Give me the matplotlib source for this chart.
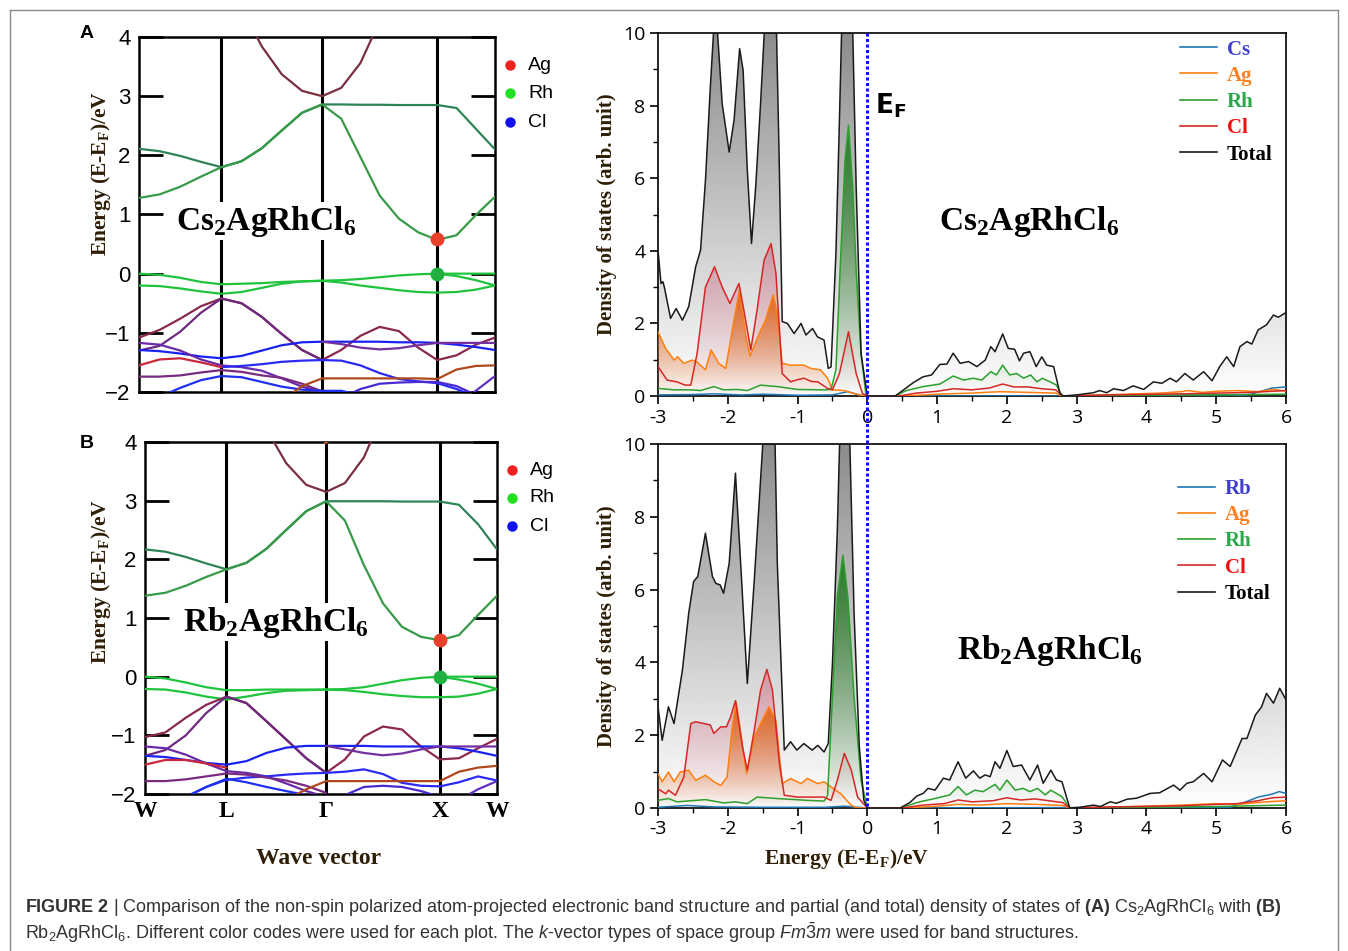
import numpy as np
import matplotlib
matplotlib.use('Agg')
import matplotlib.pyplot as plt
from matplotlib import font_manager
from matplotlib.colors import LinearSegmentedColormap, to_rgb
from matplotlib.lines import Line2D
from matplotlib.ticker import MultipleLocator

W_PX, H_PX = 1348, 951
nan = np.nan

# ---------------- band structure: energies (eV) on the k-path ----------------
k_labels = ['W', 'L', 'Γ', 'X', 'W']
k_ticks = [0.0, 0.2315, 0.5145, 0.838, 1.0]
kpts = [0.0, 0.058, 0.116, 0.174, 0.2315, 0.288, 0.345, 0.401, 0.458, 0.5145,
        0.568, 0.622, 0.676, 0.730, 0.784, 0.838, 0.892, 0.946, 1.0]

# Cs2AgRhCl6
a_cb1 = [2.11, 2.07, 1.99, 1.89, 1.80, 1.90, 2.12, 2.42, 2.72, 2.86, 2.86, 2.855, 2.855, 2.85, 2.85, 2.85, 2.80, 2.45, 2.10]
a_cb2 = [1.28, 1.34, 1.47, 1.64, 1.80, 1.90, 2.12, 2.42, 2.72, 2.86, 2.62, 1.97, 1.32, 0.93, 0.70, 0.57, 0.65, 0.99, 1.30]
a_par = [nan] * 5 + [4.50, 3.84, 3.37, 3.09, 3.00, 3.14, 3.56, 4.27] + [nan] * 6
a_v1 = [0.0, -0.02, -0.07, -0.14, -0.18, -0.17, -0.16, -0.14, -0.13, -0.12, -0.15, -0.20, -0.24, -0.28, -0.31, -0.32, -0.31, -0.27, -0.20]
a_v2 = [-0.20, -0.21, -0.25, -0.30, -0.34, -0.31, -0.24, -0.17, -0.13, -0.12, -0.11, -0.09, -0.06, -0.03, -0.01, 0.0, 0.0, 0.0, 0.0]
a_v3 = [nan] * 15 + [0.0, -0.04, -0.11, -0.20]
a_l1 = [-1.08, -0.95, -0.76, -0.55, -0.42, -0.50, -0.73, -1.02, -1.29, -1.46, -1.29, -1.05, -0.90, -0.97, -1.25, -1.46, -1.38, -1.20, -1.08]
a_l2 = [-1.30, -1.22, -0.98, -0.66, -0.42, -0.50, -0.73, -1.02, -1.29, -1.46] + [nan] * 9
a_l3 = [-1.29, -1.31, -1.35, -1.40, -1.43, -1.39, -1.30, -1.21, -1.16, -1.15, -1.15, -1.15, -1.15, -1.16, -1.16, -1.17, -1.20, -1.24, -1.29]
a_l4 = [-1.17, -1.20, -1.30, -1.45, -1.55, -1.58, -1.64, -1.77, -1.91, -2.00] + [nan] * 9
a_l5 = [nan] * 9 + [-1.15, -1.19, -1.25, -1.28, -1.26, -1.21, -1.17, -1.17, -1.17, -1.17]
a_l6 = [nan] * 4 + [-1.58, -1.56, -1.53, -1.49, -1.47, -1.46, -1.47, -1.55, -1.68, -1.78, -1.82, -1.85, -1.95, -2.08, -2.20]
a_l7 = [-1.55, -1.45, -1.43, -1.50, -1.58] + [nan] * 14
a_l8 = [-1.74, -1.74, -1.72, -1.67, -1.63, -1.66, -1.72, -1.76, -1.86, -1.99] + [nan] * 9
a_l9 = [-2.25, -2.08, -1.93, -1.80, -1.73, -1.75, -1.83, -1.91, -1.96, -1.98, -1.98, -2.05, -2.20] + [nan] * 6
a_l10 = [nan] * 7 + [-2.15, -1.90, -1.77, -1.77, -1.77, -1.77, -1.77, -1.77, -1.78, -1.62, -1.56, -1.55]
a_l11 = [nan] * 16 + [-2.20, -1.98, -1.73]
a_l12 = [nan] * 10 + [-2.10, -1.95, -1.86, -1.84, -1.83, -1.83, -1.90, -2.05, -2.20]

# Rb2AgRhCl6
b_cb1 = [2.17, 2.13, 2.04, 1.93, 1.83, 1.94, 2.18, 2.50, 2.82, 2.99, 2.99, 2.99, 2.99, 2.985, 2.985, 2.985, 2.93, 2.60, 2.17]
b_cb2 = [1.38, 1.43, 1.55, 1.70, 1.83, 1.94, 2.18, 2.50, 2.82, 2.99, 2.66, 1.90, 1.25, 0.85, 0.68, 0.62, 0.71, 1.05, 1.38]
b_par = [nan] * 5 + [4.70, 4.22, 3.64, 3.27, 3.15, 3.30, 3.74, 4.48] + [nan] * 6
b_v1 = [0.0, -0.03, -0.10, -0.18, -0.23, -0.23, -0.22, -0.22, -0.22, -0.22, -0.23, -0.26, -0.30, -0.33, -0.35, -0.35, -0.34, -0.29, -0.21]
b_v2 = [-0.21, -0.22, -0.27, -0.34, -0.39, -0.34, -0.28, -0.24, -0.23, -0.22, -0.21, -0.18, -0.12, -0.06, -0.02, 0.0, 0.0, 0.0, 0.0]
b_v3 = [nan] * 15 + [0.0, -0.05, -0.12, -0.21]
b_l1 = [-1.03, -0.95, -0.70, -0.48, -0.34, -0.45, -0.76, -1.07, -1.39, -1.64, -1.41, -1.02, -0.85, -0.90, -1.19, -1.41, -1.39, -1.22, -1.06]
b_l2 = [-1.35, -1.25, -1.00, -0.62, -0.34, -0.45, -0.76, -1.07, -1.39, -1.64] + [nan] * 9
b_l3 = [-1.35, -1.37, -1.42, -1.47, -1.50, -1.44, -1.30, -1.21, -1.18, -1.18, -1.18, -1.18, -1.19, -1.19, -1.19, -1.19, -1.22, -1.28, -1.35]
b_l4 = [-1.19, -1.22, -1.33, -1.48, -1.61, -1.64, -1.70, -1.82, -1.95, -2.05] + [nan] * 9
b_l5 = [nan] * 9 + [-1.18, -1.24, -1.30, -1.34, -1.31, -1.24, -1.19, -1.19, -1.19, -1.19]
b_l6 = [nan, nan, -2.05, -1.88, -1.76, -1.72, -1.70, -1.67, -1.65, -1.64, -1.62, -1.58, -1.66, -1.81, -1.86, -1.87, -1.80, -1.70, -1.77]
b_l7 = [-1.50, -1.42, -1.42, -1.48, -1.55] + [nan] * 14
b_l8 = [-1.78, -1.78, -1.75, -1.70, -1.65, -1.67, -1.72, -1.77, -1.86, -1.98] + [nan] * 9
b_l9 = [-2.30, -2.20, -2.05, -1.88, -1.74, -1.80, -1.88, -1.95, -2.02, -2.10] + [nan] * 9
b_l10 = [nan] * 7 + [-2.10, -1.92, -1.78, -1.78, -1.78, -1.78, -1.78, -1.78, -1.78, -1.62, -1.55, -1.52]
b_l11 = [nan] * 16 + [-2.10, -1.92, -1.78]
b_l12 = [nan] * 10 + [-2.02, -1.88, -1.86, -1.88, -1.95, -2.05] + [nan] * 3
b_top = [nan] * 8 + [4.30, 3.98, 4.30] + [nan] * 8

band_colors = ['#2e8456', '#369a48', '#7a3040', '#1fc43c', '#1fc43c', '#1fc43c',
               '#8a2850', '#6e2a7e', '#1a22f0', '#6a2aa8', '#7530a0', '#2a2af5',
               '#c8283a', '#7a2a80', '#2030f0', '#b0481e', '#6030c0', '#4a2ad0', '#c0501e']

# band edge markers at X (k, E)
a_vbm, a_cbm = (0.838, 0.0), (0.838, 0.58)
b_vbm, b_cbm = (0.838, 0.0), (0.838, 0.62)

# ---------------- density of states: (E, DOS) pairs ----------------
a_total = [(-3.0, 4.02), (-2.957, 3.10), (-2.93, 3.15), (-2.91, 3.01), (-2.82, 2.14), (-2.74, 2.41),
           (-2.65, 2.09), (-2.56, 2.46), (-2.46, 3.56), (-2.39, 4.02), (-2.32, 5.94), (-2.25, 8.51),
           (-2.20, 10.15), (-2.15, 10.1), (-2.08, 8.05), (-1.98, 6.72), (-1.91, 7.6), (-1.83, 9.57),
           (-1.78, 8.97), (-1.72, 6.22), (-1.66, 4.20), (-1.60, 5.76), (-1.53, 8.06), (-1.45, 11.0),
           (-1.38, 12.5), (-1.31, 10.8), (-1.265, 6.68), (-1.22, 2.05), (-1.145, 2.0), (-1.05, 1.72),
           (-0.95, 2.0), (-0.88, 1.68), (-0.785, 1.86), (-0.715, 1.63), (-0.62, 1.54), (-0.56, 0.76),
           (-0.52, 0.80), (-0.45, 3.93), (-0.40, 7.6), (-0.35, 11.5), (-0.27, 14.0), (-0.22, 11.0),
           (-0.16, 5.76), (-0.09, 1.17), (0.0, 0.0), (0.40, 0.0), (0.52, 0.17), (0.66, 0.37),
           (0.80, 0.53), (0.92, 0.58), (1.04, 0.87), (1.14, 0.88), (1.23, 1.18), (1.33, 0.90),
           (1.45, 0.95), (1.57, 0.81), (1.69, 0.99), (1.77, 1.36), (1.83, 1.22), (1.94, 1.71),
           (2.02, 1.31), (2.11, 1.29), (2.18, 0.97), (2.24, 1.18), (2.33, 1.22), (2.42, 0.81),
           (2.50, 1.08), (2.57, 0.85), (2.67, 0.81), (2.76, 0.07), (2.81, 0.0), (3.0, 0.03),
           (3.24, 0.09), (3.33, 0.15), (3.43, 0.09), (3.53, 0.20), (3.67, 0.15), (3.81, 0.28),
           (3.96, 0.18), (4.10, 0.39), (4.22, 0.35), (4.34, 0.49), (4.43, 0.39), (4.55, 0.62),
           (4.67, 0.44), (4.82, 0.67), (4.94, 0.42), (5.05, 0.81), (5.15, 1.08), (5.25, 0.81),
           (5.34, 1.36), (5.44, 1.50), (5.51, 1.43), (5.60, 1.82), (5.72, 1.96), (5.82, 2.23),
           (5.89, 2.17), (6.0, 2.30)]
a_cl = [(-3.0, 0.81), (-2.87, 0.44), (-2.73, 0.39), (-2.61, 0.30), (-2.53, 0.30), (-2.44, 1.17),
        (-2.32, 3.0), (-2.19, 3.56), (-2.08, 3.0), (-1.97, 2.55), (-1.84, 3.10), (-1.77, 2.37),
        (-1.67, 1.27), (-1.58, 2.37), (-1.48, 3.74), (-1.38, 4.20), (-1.31, 3.38), (-1.22, 0.62),
        (-1.10, 0.39), (-1.0, 0.45), (-0.91, 0.49), (-0.80, 0.40), (-0.71, 0.39), (-0.57, 0.21),
        (-0.50, 0.17), (-0.40, 0.62), (-0.27, 1.77), (-0.16, 0.62), (-0.07, 0.07), (0.0, 0.0),
        (0.45, 0.0), (0.7, 0.08), (1.0, 0.13), (1.23, 0.2), (1.5, 0.17), (1.75, 0.22), (1.94, 0.33),
        (2.1, 0.25), (2.3, 0.25), (2.5, 0.2), (2.7, 0.17), (2.8, 0.0), (3.5, 0.03), (4.5, 0.06),
        (5.0, 0.08), (5.5, 0.1), (6.0, 0.15)]
a_ag = [(-3.0, 1.77), (-2.89, 1.31), (-2.77, 0.99), (-2.72, 1.08), (-2.63, 0.90), (-2.51, 0.99),
        (-2.44, 0.94), (-2.32, 0.72), (-2.24, 1.27), (-2.13, 0.90), (-2.03, 0.76), (-1.91, 2.09),
        (-1.83, 2.95), (-1.74, 1.63), (-1.68, 1.10), (-1.55, 1.72), (-1.46, 2.09), (-1.35, 2.78),
        (-1.29, 2.28), (-1.22, 0.90), (-1.10, 0.85), (-0.91, 0.85), (-0.81, 0.76), (-0.67, 0.72),
        (-0.57, 0.49), (-0.50, 0.17), (-0.33, 0.15), (-0.19, 0.07), (-0.04, 0.0), (0.5, 0.0),
        (1.0, 0.05), (1.5, 0.08), (1.9, 0.12), (2.3, 0.1), (2.7, 0.08), (2.8, 0.0), (3.2, 0.02),
        (3.7, 0.05), (4.2, 0.08), (4.5, 0.12), (4.6, 0.15), (4.8, 0.1), (5.0, 0.13), (5.3, 0.15),
        (5.6, 0.12), (5.8, 0.18), (6.0, 0.14)]
a_rh = [(-3.0, 0.21), (-2.77, 0.17), (-2.53, 0.17), (-2.39, 0.15), (-2.20, 0.26), (-2.06, 0.17),
        (-1.86, 0.18), (-1.72, 0.15), (-1.53, 0.30), (-1.29, 0.26), (-1.0, 0.18), (-0.62, 0.17),
        (-0.52, 0.18), (-0.45, 0.72), (-0.38, 3.93), (-0.32, 6.50), (-0.27, 7.46), (-0.21, 5.76),
        (-0.16, 3.47), (-0.09, 1.17), (-0.02, 0.03), (0.0, 0.0), (0.40, 0.0), (0.56, 0.15),
        (0.80, 0.26), (1.04, 0.33), (1.23, 0.55), (1.38, 0.44), (1.52, 0.49), (1.64, 0.44),
        (1.77, 0.67), (1.85, 0.58), (1.94, 0.85), (2.04, 0.58), (2.14, 0.62), (2.24, 0.49),
        (2.34, 0.58), (2.43, 0.39), (2.51, 0.49), (2.64, 0.37), (2.71, 0.30), (2.79, 0.0),
        (3.5, 0.02), (4.5, 0.03), (5.5, 0.04), (6.0, 0.05)]
a_cs = [(-3.0, 0.03), (-2.5, 0.04), (-2.2, 0.06), (-1.8, 0.03), (-1.5, 0.05), (-1.0, 0.02),
        (-0.5, 0.03), (-0.28, 0.12), (-0.1, 0.02), (0.0, 0.0), (5.3, 0.0), (5.5, 0.05),
        (5.8, 0.22), (6.0, 0.25)]

b_total = [(-3.0, 2.78), (-2.94, 1.86), (-2.85, 2.78), (-2.77, 2.32), (-2.65, 3.79), (-2.56, 5.35),
           (-2.49, 6.22), (-2.43, 6.36), (-2.32, 7.55), (-2.22, 6.36), (-2.17, 6.17), (-2.11, 6.13),
           (-2.06, 5.90), (-1.98, 6.72), (-1.89, 9.20), (-1.81, 6.54), (-1.72, 3.42), (-1.62, 6.27),
           (-1.53, 9.02), (-1.45, 11.5), (-1.40, 12.5), (-1.33, 10.8), (-1.29, 6.72), (-1.19, 1.59),
           (-1.10, 1.82), (-1.01, 1.59), (-0.91, 1.77), (-0.79, 1.59), (-0.71, 1.72), (-0.62, 1.54),
           (-0.56, 1.77), (-0.50, 3.97), (-0.43, 7.64), (-0.37, 12.0), (-0.33, 14.0), (-0.27, 11.5),
           (-0.19, 5.35), (-0.115, 1.68), (-0.05, 0.21), (0.0, 0.0), (0.47, 0.0), (0.61, 0.15),
           (0.71, 0.33), (0.80, 0.40), (0.87, 0.54), (0.97, 0.49), (1.09, 0.82), (1.18, 0.77),
           (1.30, 1.27), (1.41, 0.82), (1.52, 1.02), (1.61, 0.82), (1.69, 0.91), (1.76, 0.86),
           (1.83, 1.27), (1.90, 1.09), (2.00, 1.58), (2.09, 1.14), (2.21, 1.18), (2.33, 0.77),
           (2.44, 1.18), (2.52, 0.68), (2.63, 1.04), (2.71, 0.77), (2.79, 0.72), (2.90, 0.0),
           (3.05, 0.02), (3.24, 0.08), (3.34, 0.04), (3.48, 0.17), (3.57, 0.13), (3.72, 0.24),
           (3.86, 0.27), (4.05, 0.40), (4.19, 0.42), (4.39, 0.63), (4.48, 0.49), (4.58, 0.68),
           (4.67, 0.72), (4.82, 0.95), (4.94, 0.72), (5.09, 1.32), (5.20, 1.14), (5.37, 1.91),
           (5.44, 1.91), (5.56, 2.55), (5.65, 2.78), (5.72, 3.15), (5.82, 2.88), (5.91, 3.29),
           (6.0, 2.97)]
b_cl = [(-3.0, 0.53), (-2.89, 0.39), (-2.85, 0.49), (-2.75, 0.35), (-2.63, 0.85), (-2.53, 2.32),
        (-2.46, 2.37), (-2.34, 2.32), (-2.25, 2.28), (-2.20, 2.05), (-2.10, 2.23), (-2.02, 2.23),
        (-1.96, 2.50), (-1.89, 2.95), (-1.79, 1.68), (-1.72, 1.04), (-1.62, 2.14), (-1.53, 3.24),
        (-1.44, 3.81), (-1.36, 3.24), (-1.26, 1.22), (-1.19, 0.35), (-1.0, 0.30), (-0.62, 0.30),
        (-0.52, 0.21), (-0.43, 0.76), (-0.33, 1.50), (-0.23, 1.04), (-0.14, 0.30), (0.0, 0.0),
        (0.5, 0.0), (0.8, 0.08), (1.1, 0.12), (1.3, 0.22), (1.5, 0.17), (1.8, 0.2), (2.0, 0.28),
        (2.2, 0.22), (2.4, 0.25), (2.6, 0.2), (2.8, 0.15), (2.9, 0.0), (3.5, 0.03), (4.5, 0.06),
        (5.0, 0.1), (5.3, 0.12), (5.6, 0.2), (5.8, 0.28), (6.0, 0.3)]
b_ag = [(-3.0, 0.94), (-2.94, 0.72), (-2.85, 0.99), (-2.77, 0.72), (-2.68, 0.99), (-2.56, 1.04),
        (-2.46, 0.76), (-2.32, 0.90), (-2.20, 0.72), (-2.10, 0.62), (-2.01, 0.85), (-1.94, 2.14),
        (-1.88, 2.92), (-1.82, 2.14), (-1.73, 0.94), (-1.62, 1.95), (-1.53, 2.32), (-1.41, 2.78),
        (-1.31, 2.41), (-1.22, 0.67), (-1.10, 0.81), (-0.95, 0.67), (-0.86, 0.81), (-0.71, 0.67),
        (-0.62, 0.72), (-0.52, 0.58), (-0.38, 0.39), (-0.23, 0.07), (-0.14, 0.0), (0.5, 0.0),
        (1.0, 0.05), (1.3, 0.1), (1.6, 0.08), (2.0, 0.12), (2.4, 0.1), (2.8, 0.07), (2.9, 0.0),
        (3.5, 0.02), (4.0, 0.05), (4.5, 0.08), (5.0, 0.12), (5.3, 0.1), (5.6, 0.15), (5.8, 0.18),
        (6.0, 0.2)]
b_rh = [(-3.0, 0.21), (-2.85, 0.26), (-2.73, 0.17), (-2.32, 0.23), (-2.06, 0.14), (-1.89, 0.17),
        (-1.72, 0.12), (-1.58, 0.30), (-1.29, 0.26), (-0.86, 0.21), (-0.62, 0.19), (-0.57, 0.35),
        (-0.50, 3.05), (-0.43, 5.81), (-0.35, 6.95), (-0.28, 5.81), (-0.19, 3.05), (-0.09, 0.76),
        (0.0, 0.0), (0.47, 0.0), (0.75, 0.17), (0.99, 0.27), (1.18, 0.36), (1.30, 0.59),
        (1.42, 0.36), (1.54, 0.49), (1.66, 0.45), (1.83, 0.65), (1.90, 0.49), (2.00, 0.77),
        (2.12, 0.49), (2.23, 0.54), (2.33, 0.45), (2.44, 0.54), (2.55, 0.36), (2.63, 0.49),
        (2.79, 0.31), (2.90, 0.0), (4.0, 0.02), (5.0, 0.04), (6.0, 0.08)]
b_rb = [(-3.0, 0.02), (-2.58, 0.07), (-2.2, 0.03), (-1.5, 0.02), (-0.6, 0.02), (-0.33, 0.05),
        (0.0, 0.0), (5.2, 0.02), (5.4, 0.15), (5.6, 0.3), (5.8, 0.38), (5.9, 0.45), (6.0, 0.40)]

dos_xticks = [-3, -2, -1, 0, 1, 2, 3, 4, 5, 6]
dos_xticklabels = ['-3', '-2', '-1', '0', '1', '2', '3', '4', '5', '6']
dos_yticks = [0, 2, 4, 6, 8, 10]

line_cols = {'A': '#1f77b4', 'Ag': '#ff7f0e', 'Rh': '#2ca02c', 'Cl': '#d62728', 'Total': '#1a1a1a'}
text_cols = {'A': '#4040d0', 'Ag': '#ff8020', 'Rh': '#2aa84a', 'Cl': '#ee1111', 'Total': 'black'}
label_col = '#2e1e05'

# ---------------- fonts ----------------
names = {f.name for f in font_manager.fontManager.ttflist}
cap_font = 'Liberation Sans Narrow' if 'Liberation Sans Narrow' in names else 'Liberation Sans'
plt.rcParams['font.family'] = ['Liberation Sans', 'DejaVu Sans']
plt.rcParams['mathtext.fontset'] = 'custom'
plt.rcParams['mathtext.rm'] = cap_font
plt.rcParams['mathtext.it'] = cap_font + ':italic'
plt.rcParams['mathtext.bf'] = cap_font + ':bold'
SERIF = 'Liberation Serif'

fig = plt.figure(figsize=(W_PX / 100, H_PX / 100), dpi=100)


def px_axes(l, t, r, b):
    return fig.add_axes([l / W_PX, 1 - b / H_PX, (r - l) / W_PX, (b - t) / H_PX])


def draw_bands(ax, bands, vbm, cbm, name, name_pos, bottom):
    for kx in k_ticks[1:-1]:
        ax.axvline(kx, color='black', lw=2.2, zorder=1.5)
    for vals, c in zip(bands, band_colors):
        ax.plot(kpts, vals, color=c, lw=1.6, zorder=4, solid_capstyle='round',
                solid_joinstyle='round')
    ax.plot(*cbm, 'o', color='#e8402a', ms=9, zorder=5)
    ax.plot(*vbm, 'o', color='#20b040', ms=9, zorder=5)
    ax.set_xlim(0, 1)
    ax.set_ylim(-2, 4)
    ax.set_yticks(range(-2, 5))
    ax.tick_params(axis='y', direction='in', length=17, width=2, left=True, right=True,
                   labelsize=16, pad=6)
    for s in ax.spines.values():
        s.set_linewidth(1.8)
    ax.text(name_pos[0], name_pos[1], name, fontsize=24, fontfamily=SERIF, fontweight='bold',
            ha='center', va='center', zorder=3,
            bbox=dict(boxstyle='square,pad=0.05', fc='white', ec='none'))
    ax.set_ylabel('Energy (E-E$_\\mathregular{F}$)/eV', fontsize=15.5, fontfamily=SERIF,
                  fontweight='bold', color=label_col)
    if bottom:
        ax.set_xticks(k_ticks)
        ax.set_xticklabels(k_labels, fontfamily=SERIF, fontweight='bold', fontsize=17)
        ax.tick_params(axis='x', length=0, pad=5)
        ax.set_xlabel('Wave vector', fontsize=17, fontfamily=SERIF, fontweight='bold', color=label_col)
        ax.xaxis.set_label_coords(0.494, -0.153)
    else:
        ax.set_xticks([])
    # element legend
    for (lab, c), yy in zip([('Ag', '#ee2020'), ('Rh', '#20e020'), ('Cl', '#1010ee')], [0.92, 0.841, 0.76]):
        ax.plot([1.043], [yy], 'o', color=c, ms=6.5, transform=ax.transAxes, clip_on=False)
        ax.text(1.093, yy, lab, fontsize=14, va='center', ha='left', transform=ax.transAxes)


def grad_fill(ax, x, y, color, top, amax, z):
    r, g, b = to_rgb(color)
    cmap = LinearSegmentedColormap.from_list('g', [(r, g, b, 0.0), (r, g, b, amax)])
    poly = ax.fill_between(x, 0, y, facecolor='none', edgecolor='none')
    im = ax.imshow(np.linspace(0, 1, 256).reshape(-1, 1), cmap=cmap, origin='lower', aspect='auto',
                   extent=[x[0], x[-1], 0, top], zorder=z, interpolation='bilinear')
    im.set_clip_path(poly.get_paths()[0], transform=ax.transData)


def draw_dos(ax, total, cl, ag, rh, alk, alk_name, name, name_pos, leg_anchor, bottom):
    curves = {k: np.array(v).T for k, v in
              [('Total', total), ('Cl', cl), ('Ag', ag), ('Rh', rh), ('A', alk)]}
    xt, yt = curves['Total']
    grad_fill(ax, xt, yt, '#8c8c8c', 10, 1.0, 1)
    xc, yc = curves['Cl']
    grad_fill(ax, xc, yc, '#c8506a', yc.max(), 0.45, 2)
    xa, ya = curves['Ag']
    grad_fill(ax, xa, ya, '#e0661c', ya.max(), 1.0, 3)
    xr, yr = curves['Rh']
    grad_fill(ax, xr, yr, '#2a7a2a', yr.max(), 1.0, 4)
    for key, z in [('A', 5), ('Ag', 6), ('Rh', 7), ('Cl', 8), ('Total', 9)]:
        xx, yy = curves[key]
        ax.plot(xx, yy, color=line_cols[key], lw=1.1, zorder=z)
    ax.set_xlim(-3, 6)
    ax.set_ylim(0, 10)
    ax.set_xticks(dos_xticks)
    ax.set_xticklabels(dos_xticklabels, fontfamily='Open Sans', fontsize=14)
    ax.set_yticks(dos_yticks)
    ax.set_yticklabels([str(v) for v in dos_yticks], fontfamily='Open Sans', fontsize=14)
    ax.xaxis.set_minor_locator(MultipleLocator(0.5))
    ax.yaxis.set_minor_locator(MultipleLocator(1))
    ax.tick_params(which='major', direction='out', length=6, width=1.2, pad=3)
    ax.tick_params(which='minor', direction='out', length=3.5, width=1.0)
    for s in ax.spines.values():
        s.set_linewidth(1.2)
    ax.set_ylabel('Density of states (arb. unit)', fontsize=15, fontfamily=SERIF,
                  fontweight='bold', color=label_col)
    ax.yaxis.set_label_coords(-0.066, 0.5)
    ax.text(name_pos[0], name_pos[1], name, fontsize=24, fontfamily=SERIF, fontweight='bold',
            ha='center', va='center', zorder=12)
    handles = [Line2D([], [], color=line_cols[k], lw=1.2) for k in ['A', 'Ag', 'Rh', 'Cl', 'Total']]
    leg = ax.legend(handles, [alk_name, 'Ag', 'Rh', 'Cl', 'Total'], loc='upper left',
                    bbox_to_anchor=leg_anchor, frameon=False, borderpad=0, borderaxespad=0,
                    handlelength=1.8, handletextpad=0.45, labelspacing=0.3,
                    prop={'family': SERIF, 'weight': 'bold', 'size': 15})
    for t, k in zip(leg.get_texts(), ['A', 'Ag', 'Rh', 'Cl', 'Total']):
        t.set_color(text_cols[k])
    if bottom:
        ax.set_xlabel('Energy (E-E$_\\mathregular{F}$)/eV', fontsize=15.5, fontfamily=SERIF,
                      fontweight='bold', color=label_col)
        ax.xaxis.set_label_coords(0.301, -0.107)


# ---------------- panels ----------------
band_a = px_axes(139, 37, 495, 392)
band_b = px_axes(145, 442, 497, 794)
dos_a = px_axes(658, 33, 1286, 396)
dos_b = px_axes(658, 444, 1286, 808)

draw_bands(band_a, [a_cb1, a_cb2, a_par, a_v1, a_v2, a_v3, a_l1, a_l2, a_l3, a_l4, a_l5,
                    a_l6, a_l7, a_l8, a_l9, a_l10, a_l11, a_l12],
           a_vbm, a_cbm, 'Cs$_\\mathregular{2}$AgRhCl$_\\mathregular{6}$', (0.357, 0.89), False)
draw_bands(band_b, [b_cb1, b_cb2, b_par, b_v1, b_v2, b_v3, b_l1, b_l2, b_l3, b_l4, b_l5,
                    b_l6, b_l7, b_l8, b_l9, b_l10, b_l11, b_l12, b_top],
           b_vbm, b_cbm, 'Rb$_\\mathregular{2}$AgRhCl$_\\mathregular{6}$', (0.372, 0.93), True)
band_a.yaxis.set_label_coords(-0.073, 0.617)
band_b.yaxis.set_label_coords(-0.091, 0.605)

draw_dos(dos_a, a_total, a_cl, a_ag, a_rh, a_cs, 'Cs',
         'Cs$_\\mathregular{2}$AgRhCl$_\\mathregular{6}$', (2.32, 4.82), (0.831, 0.982), False)
draw_dos(dos_b, b_total, b_cl, b_ag, b_rh, b_rb, 'Rb',
         'Rb$_\\mathregular{2}$AgRhCl$_\\mathregular{6}$', (2.62, 4.34), (0.828, 0.904), True)
dos_a.text(0.11, 8.0, 'E$_\\mathregular{F}$', fontsize=19, fontfamily='DejaVu Sans',
           fontweight='bold', ha='left', va='center', color='black')

# Fermi level line running through both DOS panels
x_ef = fig.transFigure.inverted().transform(dos_a.transData.transform((0, 0)))[0]
fig.add_artist(Line2D([x_ef, x_ef], [1 - 33 / H_PX, 1 - 808 / H_PX], transform=fig.transFigure,
                      color='#1010ff', lw=2.2, linestyle=(0, (1, 0.8)), zorder=20))

# panel letters
fig.text(87 / W_PX, 1 - 34 / H_PX, 'A', fontsize=14, fontweight='bold', ha='center', va='center')
fig.text(87 / W_PX, 1 - 443 / H_PX, 'B', fontsize=14, fontweight='bold', ha='center', va='center')

# outer frame
fcol = '#8a8a8a'
for xs, ys in [([10, 1338], [10, 10]), ([10, 10], [10, 951]), ([1338, 1338], [10, 951])]:
    fig.add_artist(Line2D([x / W_PX for x in xs], [1 - y / H_PX for y in ys],
                          transform=fig.transFigure, color=fcol, lw=1))

# caption
cap1 = (r'$\mathbf{FIGURE\ 2}$ | Comparison of the non-spin polarized atom-projected electronic band '
        r'structure and partial (and total) density of states of $\mathbf{(A)}$ '
        r'Cs$_\mathregular{2}$AgRhCl$_\mathregular{6}$ with $\mathbf{(B)}$')
cap2 = (r'Rb$_\mathregular{2}$AgRhCl$_\mathregular{6}$. Different color codes were used for each plot. '
        r'The $\mathit{k}$-vector types of space group $\mathit{Fm}\bar{\mathit{3}}\mathit{m}$ '
        r'were used for band structures.')
t1 = fig.text(25 / W_PX, 1 - 908 / H_PX, cap1, fontsize=14, fontfamily=cap_font, color='#333333',
              ha='left', va='center')
t2 = fig.text(25 / W_PX, 1 - 933 / H_PX, cap2, fontsize=14, fontfamily=cap_font, color='#333333',
              ha='left', va='center')
fig.canvas.draw()
w1 = t1.get_window_extent().width
fs = 14 * 1265 / w1
t1.set_fontsize(fs)
t2.set_fontsize(fs)

fig.savefig('out.png', dpi=100)
